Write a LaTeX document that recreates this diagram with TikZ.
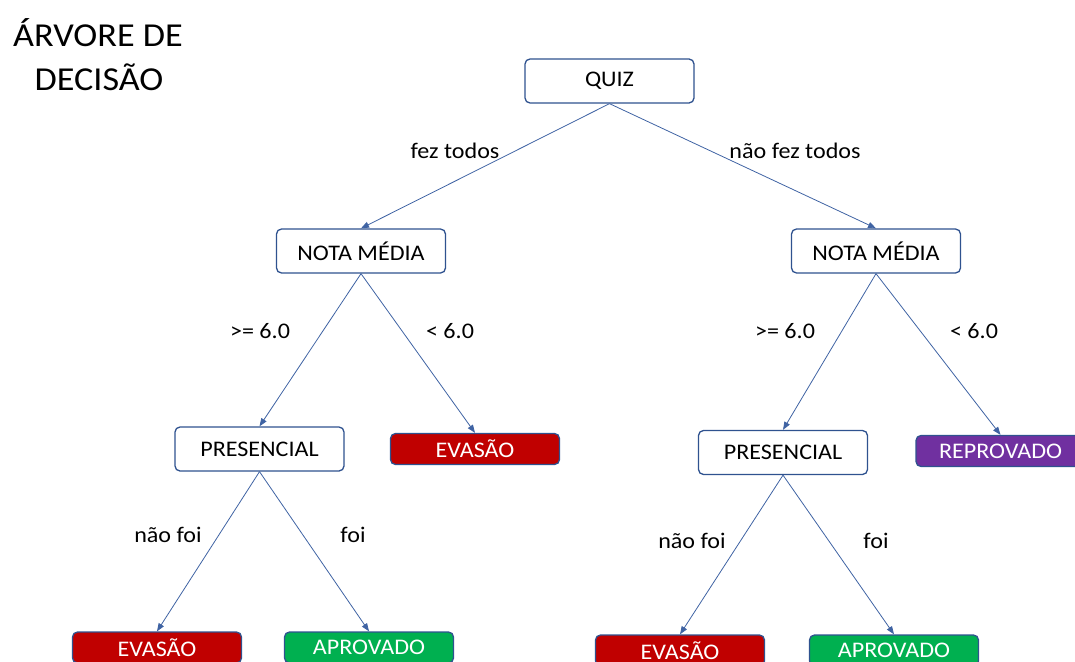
\documentclass[tikz,border=0pt]{standalone}
\usepackage{fontspec}
\setmainfont{Carlito}[FakeStretch=1.08]
\usetikzlibrary{arrows.meta}
\definecolor{edgeblue}{HTML}{2F528F}
\definecolor{linkblue}{HTML}{3F63A3}
\definecolor{leafred}{HTML}{C00000}
\definecolor{leafgreen}{HTML}{00B050}
\definecolor{leafpurple}{HTML}{7030A0}
\begin{document}
\begin{tikzpicture}[x=1pt,y=-1pt,
  box/.style={draw=edgeblue, line width=1.3pt, rounded corners=5pt,
    minimum width=169pt, minimum height=44pt, fill=white, inner sep=0pt,
    font=\fontsize{22.3}{26}\selectfont},
  leaf/.style={box, minimum height=31pt, text=white},
  arr/.style={draw=linkblue, line width=0.8pt, -{Triangle[length=8pt,width=6pt]}},
  lbl/.style={font=\fontsize{22.3}{26}\selectfont},
  ttl/.style={font=\fontsize{33.5}{40}\selectfont, anchor=base}]
\useasboundingbox (0,0) rectangle (1075,661);
\clip (0,0) rectangle (1075,661);

% title
\node[ttl] (t1) at (98,47) {ÁRVORE DE};
\node[ttl] (t2) at (99,90) {DECISÃO};

% decision nodes
\node[box] (quiz) at (609.5,81) {QUIZ};
\node[box] (nmL) at (361,251) {NOTA MÉDIA};
\node[box] (nmR) at (876,251) {NOTA MÉDIA};
\node[box] (prL) at (259.5,449) {PRESENCIAL};
\node[box] (prR) at (783,452.5) {PRESENCIAL};

% leaves
\node[leaf, fill=leafred] (evM) at (475,449) {EVASÃO};
\node[leaf, fill=leafpurple] (rep) at (1000.5,451) {REPROVADO};
\node[leaf, fill=leafred] (evL) at (157,647.5) {EVASÃO};
\node[leaf, fill=leafgreen] (apL) at (369,647.5) {APROVADO};
\node[leaf, fill=leafred] (evR) at (680,650.5) {EVASÃO};
\node[leaf, fill=leafgreen] (apR) at (894,650.5) {APROVADO};

% branches
\draw[arr] (quiz.south) -- (nmL.north);
\draw[arr] (quiz.south) -- (nmR.north);
\draw[arr] (nmL.south) -- (prL.north);
\draw[arr] (nmL.south) -- (evM.north);
\draw[arr] (nmR.south) -- (prR.north);
\draw[arr] (nmR.south) -- (rep.north);
\draw[arr] (prL.south) -- (evL.north);
\draw[arr] (prL.south) -- (apL.north);
\draw[arr] (prR.south) -- (evR.north);
\draw[arr] (prR.south) -- (apR.north);

% branch labels
\node[lbl] (l1) at (455,151) {fez todos};
\node[lbl] (l2) at (795,151) {não fez todos};
\node[lbl] (l3) at (260,331) {>= 6.0};
\node[lbl] (l4) at (450,331) {< 6.0};
\node[lbl] (l5) at (785,331) {>= 6.0};
\node[lbl] (l6) at (974,331) {< 6.0};
\node[lbl] (l7) at (168,535) {não foi};
\node[lbl] (l8) at (353,535) {foi};
\node[lbl] (l9) at (692,541) {não foi};
\node[lbl] (l10) at (876,541) {foi};
\end{tikzpicture}
\end{document}
